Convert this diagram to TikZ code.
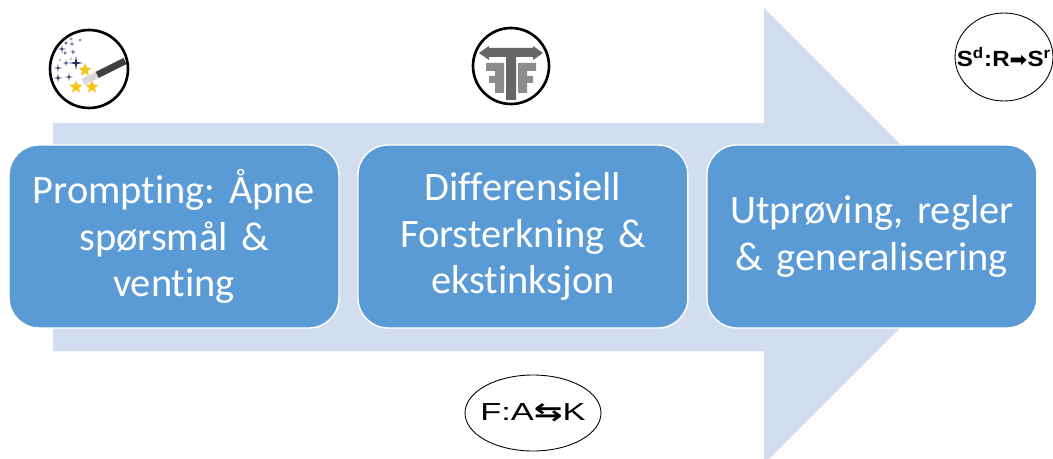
\documentclass[tikz,border=0pt]{standalone}
\usepackage{fontspec}
\usepackage{xcolor}
\setmainfont[Ligatures=CommonOff]{Carlito}
\newfontfamily\iconfont{Liberation Sans}
\newfontfamily\arrowfont{DejaVu Sans}
\usetikzlibrary{positioning}
\usetikzlibrary{shapes.geometric}
\definecolor{boxblue}{HTML}{5B9BD5}
\definecolor{arrowblue}{HTML}{D2DDEF}
\definecolor{stargold}{HTML}{F5C518}
\definecolor{sparkblue}{HTML}{1F2F55}
\tikzset{
  stepbox/.style={draw=white,thick,fill=boxblue,rounded corners=0.6cm,minimum width=6.6cm,minimum height=3.66cm,
    outer sep=0pt,text width=6.3cm,align=center,text=white,font=\fontsize{23}{26.5}\selectfont\frenchspacing},
  ringicon/.style={draw=black,line width=1.5pt,circle,fill=white,inner sep=0pt},
  ovalicon/.style={draw=black,line width=0.5pt,ellipse,fill=white,inner sep=0pt},
  goldstar/.style={star,star points=5,star point ratio=2.2,fill=stargold,minimum size=0.27cm,inner sep=0pt},
}
\begin{document}
\begin{tikzpicture}[x=0.02cm,y=-0.02cm]
  \useasboundingbox (0,0) rectangle (1053,459);

  % big arrow behind the boxes
  \fill[arrowblue] (53,123) -- (764,123) -- (764,8) -- (992,236) -- (764,464) -- (764,351) -- (53,351) -- cycle;

  \node[stepbox] (prompt) at (174,236.5) {Prompting: Åpne\\spørsmål \&\\venting};
  \node[stepbox,right=0.38cm of prompt] (diff) {Differensiell\\Forsterkning \&\\ekstinksjon};
  \node[stepbox,right=0.38cm of diff] (test) {Utprøving, regler\\\& generalisering};

  % wand
  \node[ringicon,minimum size=1.56cm] (wand) at (89,69) {};
  \foreach \sx/\sy/\sr in {76/63/7,58/68/4,66/63/3.5,58/78/4.5,69/77/4,62/49/4,66/43/2.5,72/44/2.5,73/52/3,71/39/2,80/40/2,65/53/2.5,60/60/1.5,71/59/1.5}
    \fill[sparkblue] (\sx-\sr,\sy) -- (\sx-0.15*\sr,\sy-0.15*\sr) -- (\sx,\sy-\sr) -- (\sx+0.15*\sr,\sy-0.15*\sr)
      -- (\sx+\sr,\sy) -- (\sx+0.15*\sr,\sy+0.15*\sr) -- (\sx,\sy+\sr) -- (\sx-0.15*\sr,\sy+0.15*\sr) -- cycle;
  \foreach \sx/\sy [count=\i] in {85/70,76/87,92/87}
    \node[goldstar] (star\i) at (\sx,\sy) {};
  \draw[black!75,line width=3.9pt] (97,75) -- (125,61);
  \draw[black!15,line width=3.9pt] (83,82) -- (97,75);

  % T with two F
  \node[ringicon,minimum size=1.52cm] (ttf) at (511,66) {};
  \fill[black!45] (495,63) rectangle (504,93) (486,63) rectangle (504,71) (489,76) rectangle (504,83);
  \fill[black!45] (518,63) rectangle (527,93) (518,63) rectangle (536,71) (518,76) rectangle (533,83);
  \fill[black!60] (479,53) -- (489,46) -- (489,48) -- (533,48) -- (533,46) -- (543,53) -- (533,60) -- (533,57)
    -- (516,57) -- (516,100) -- (506,100) -- (506,57) -- (489,57) -- (489,60) -- cycle;

  \node[ovalicon,minimum width=1.96cm,minimum height=1.76cm,font=\iconfont\bfseries\fontsize{12.5}{14}\selectfont] (sdr) at (1004,57)
    {\makebox[0pt]{\scalebox{1.1}[1]{S\textsuperscript{d}:R{\arrowfont\fontsize{11}{11}\selectfont ➡}S\textsuperscript{r}}}};
  \node[ovalicon,minimum width=2.72cm,minimum height=1.52cm,font=\iconfont\fontsize{14}{16}\selectfont] (fak) at (533,413)
    {\makebox[0pt]{\scalebox{1.4}[1]{F:A{\arrowfont\bfseries ⇆}K}}};
\end{tikzpicture}
\end{document}
